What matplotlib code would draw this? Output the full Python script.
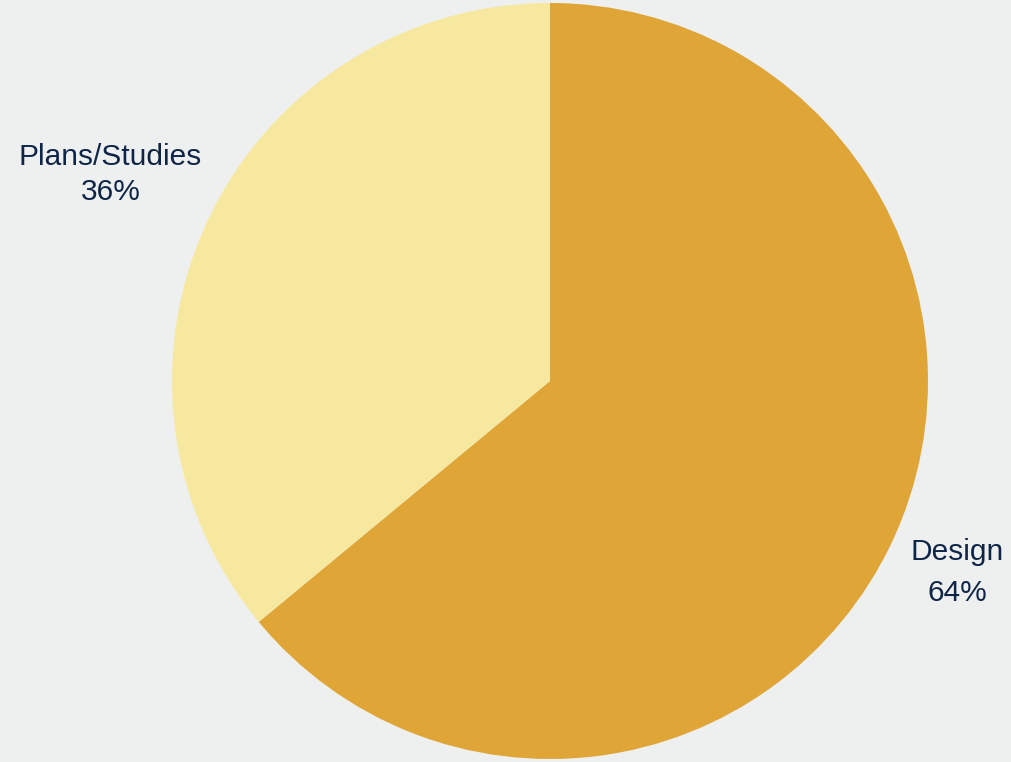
import numpy as np
import matplotlib.pyplot as plt

# ----------------------------------------
# Data
# ----------------------------------------
categories = ["Design", "Plans/Studies"]
shares = [64, 36]
colors = ["#E0A537", "#F7E8A0"]
label_dist = [1.19, 1.285]
label_spacing = [1.58, 1.32]

BG = "#EEF0EF"
TEXT = "#0F2548"

plt.rcParams['font.family'] = ['Liberation Sans', 'DejaVu Sans']

fig = plt.figure(figsize=(10.12, 7.62), dpi=100, facecolor=BG)
ax = fig.add_axes([0, 0, 1, 1])
ax.set_facecolor(BG)

wedges, _ = ax.pie(
  shares,
  colors=colors,
  startangle=90,
  counterclock=False,
  center=(550, 381),
  radius=378,
  wedgeprops=dict(linewidth=0),
)

# labels outside each slice
total = sum(shares)
for w, name, val, d, ls in zip(wedges, categories, shares, label_dist, label_spacing):
  mid = np.deg2rad((w.theta1 + w.theta2) / 2)
  x = 550 + d * 378 * np.cos(mid)
  y = 381 + d * 378 * np.sin(mid)
  ax.text(x, y, f"{name}\n{val / total * 100:.0f}%",
          ha="center", va="center", fontsize=21.5, color=TEXT,
          linespacing=ls)

ax.set_xlim(0, 1012)
ax.set_ylim(0, 762)
ax.set_aspect("equal")
ax.axis("off")

fig.savefig("out.png", dpi=100, facecolor=BG)
